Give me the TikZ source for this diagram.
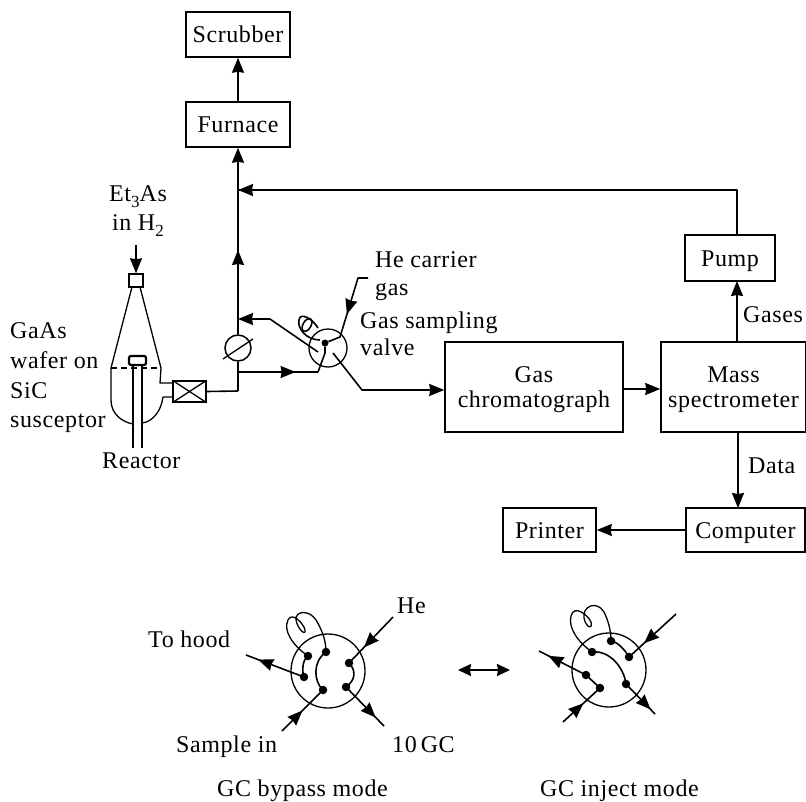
\documentclass[tikz,border=0pt]{standalone}
\usepackage{fontspec}
\setmainfont[LetterSpace=2.5]{Liberation Serif}
\usetikzlibrary{arrows.meta,decorations.markings}
\newcommand{\lowsub}[1]{\raisebox{-6pt}{\fontsize{17}{17}\selectfont #1}}
\tikzset{
  x=1pt,y=-1pt,
  every node/.style={font=\fontsize{24}{25}\selectfont},
  lbl/.style={anchor=base west,inner sep=0pt},
  box/.style={draw,line width=1.5pt,inner sep=0pt,align=center},
  onerow/.style={text height=21pt,text depth=5pt},
  wire/.style={line width=1.6pt,line join=round},
  thin wire/.style={line width=1.3pt,line join=round},
  tip/.style={-{Stealth[inset=1pt,length=15pt,width=12pt]}},
  flowtip/.style={postaction={decorate,decoration={markings,mark=at position #1 with {\arrow{Stealth[inset=1pt,length=15pt,width=12pt]}}}}},
  port/.style={circle,fill=black,inner sep=0pt,minimum size=8.5pt},
}
\begin{document}
\begin{tikzpicture}
\useasboundingbox (0,0) rectangle (806,801);
% boxes
\node[box,onerow,minimum width=104pt,minimum height=45pt] (scrubber) at (238,34.5) {Scrubber};
\node[box,onerow,minimum width=104pt,minimum height=45pt] (furnace) at (238,124.5) {Furnace};
\node[box,onerow,minimum width=90pt,minimum height=46pt] (pump) at (730,258) {Pump};
\node[box,minimum width=178pt,minimum height=90pt] (gc) at (534,387) {\rule{0pt}{22pt}Gas\\chromatograph};
\node[box,minimum width=145pt,minimum height=90pt] (ms) at (733.5,387) {\rule{0pt}{22pt}Mass\\spectrometer};
\node[box,onerow,minimum width=119pt,minimum height=44pt] (computer) at (745.5,530) {Computer};
\node[box,onerow,minimum width=93pt,minimum height=44pt] (printer) at (549.5,530) {Printer};
% main connectors
\draw[wire,tip] (furnace.north) -- (scrubber.south);
\coordinate (pumpturn) at (737,190);
\coordinate (mainj) at (238,190);
\draw[wire] (pump.north -| pumpturn) -- (pumpturn) -- (mainj);
\draw[wire,tip] (pumpturn -| 270,190) -- (mainj);
\draw[wire,tip] (737,342) -- (737,281);
\draw[wire,tip] (gc.east |- 0,389) -- (ms.west |- 0,389);
\draw[wire,tip] (738,432) -- (738,508);
\draw[wire,tip] (computer.west) -- (printer.east);
% reactor
\node[draw,line width=1.5pt,minimum width=14pt,minimum height=13pt,inner sep=0pt] (inlet) at (136,280.5) {};
\coordinate (inletfree) at (136,245);
\draw[thin wire,tip] (inletfree) -- (inlet.north);
\coordinate (cl) at (111,368);
\coordinate (cr) at (161,368);
\draw[thin wire] (132,287) -- (cl) -- (111,400) .. controls (111,414) and (122,422) .. (133,424);
\draw[thin wire] (140,287) -- (cr) -- (160,383) -- (173,383);
\draw[thin wire] (173,397) -- (163,397) .. controls (161,412) and (152,422) .. (142,423);
\draw[thin wire,dash pattern=on 6pt off 4pt] (cl) -- (cr);
\draw[line width=2.2pt,rounded corners=2pt] (129,356) rectangle (146,365);
\draw[thin wire] (133,366) -- (133,448);
\draw[thin wire] (142,366) -- (142,448);
% valve box
\node[draw,line width=1.5pt,minimum width=33pt,minimum height=21pt,inner sep=0pt] (xvalve) at (189.5,391.5) {};
\draw[thin wire] (xvalve.north west) -- (xvalve.south east);
\draw[thin wire] (xvalve.south west) -- (xvalve.north east);
\coordinate (xj) at (238,391);
\draw[wire] (xvalve.east) -- (xj);
% flow element
\node[draw,circle,line width=1.5pt,minimum size=26pt,inner sep=0pt] (flow) at (238,348) {};
\draw[thin wire] (223,359) -- (253,339);
\draw[wire] (xj) -- (flow.south);
\draw[wire,tip] (flow.north) -- (furnace.south);
\draw[wire,tip] (flow.north) -- (238,250);
% sampling valve
\node[draw,circle,line width=1.3pt,minimum size=38pt,inner sep=0pt] (sv) at (328,348) {};
\node[circle,fill=black,inner sep=0pt,minimum size=7pt] (svc) at (325,343) {};
\coordinate (ret) at (238,319);
\coordinate (retb) at (270,319);
\coordinate (reti) at (318,352);
\draw[wire,tip] (reti) -- (retb) -- (ret);
\coordinate (sb) at (238,372);
\coordinate (sbe) at (318,372);
\draw[wire,flowtip=0.72] (sb) -- (sbe);
\draw[wire] (sbe) -- (325,353) -- (svc);
\coordinate (he1) at (368,278);
\coordinate (he2) at (358,278);
\coordinate (he3) at (340,337);
\draw[wire,flowtip=0.57] (he1) -- (he2) -- (he3) -- (svc);
\coordinate (so) at (333,353);
\coordinate (so2) at (362,390);
\draw[wire,tip] (so) -- (so2) -- (gc.west |- so2);
\draw[line width=1.6pt,rotate around={-30:(307,325)}] (307,325) ellipse (4pt and 7pt);
\draw[line width=1.6pt] (320,340) .. controls (306,340) and (297,328) .. (299,320) .. controls (300,312) and (312,318) .. (318,328);
% bypass valve
\node[draw,circle,line width=1.3pt,minimum size=74pt,inner sep=0pt] (bv) at (328,671) {};
\node[port] (a) at (308,656) {};
\node[port] (b) at (326,652) {};
\node[port] (c) at (349,663) {};
\node[port] (d) at (346,687) {};
\node[port] (e) at (323,690) {};
\node[port] (f) at (304,677) {};
\coordinate (hood) at (246,655);
\coordinate (hefree) at (393,617);
\coordinate (sfree) at (282,731);
\coordinate (gcfree) at (384,726);
\draw[wire,flowtip=0.79] (f.center) -- (hood);
\draw[wire,flowtip=0.66] (hefree) -- (c.center);
\draw[wire,flowtip=0.5] (sfree) -- (e.center);
\draw[wire,flowtip=0.78] (d.center) -- (gcfree);
\draw[wire] (a.center) .. controls (302,660) and (302,672) .. (f.center);
\draw[wire] (b.center) .. controls (312,662) and (314,682) .. (e.center);
\draw[wire] (c.center) .. controls (356,670) and (356,680) .. (d.center);
\draw[thin wire] (a.center) .. controls (292,645) and (283,630) .. (288,620) .. controls (292,611) and (304,624) .. (305,630) .. controls (306,636) and (298,630) .. (296,620) .. controls (295,610) and (310,610) .. (316,620) .. controls (322,630) and (326,640) .. (b.center);
% double arrow
\coordinate (dl) at (458,670);
\coordinate (dr) at (510,670);
\draw[wire,{Stealth[inset=1pt,length=13pt,width=12pt]}-{Stealth[inset=1pt,length=13pt,width=12pt]}] (dl) -- (dr);
% inject valve
\node[draw,circle,line width=1.3pt,minimum size=74pt,inner sep=0pt] (iv) at (609,670) {};
\node[port] (p) at (611,641) {};
\node[port] (q) at (629,657) {};
\node[port] (r) at (626,684) {};
\node[port] (s) at (600,688) {};
\node[port] (t) at (586,675) {};
\node[port] (u) at (592,652) {};
\coordinate (ihood) at (539,651);
\coordinate (ihe) at (676,614);
\coordinate (is) at (563,722);
\coordinate (igc) at (655,714);
\draw[wire,flowtip=0.8] (t.center) -- (ihood);
\draw[wire] (t.center) -- (s.center);
\draw[wire,flowtip=0.68] (ihe) -- (q.center);
\draw[wire,flowtip=0.55] (is) -- (s.center);
\draw[wire,flowtip=0.85] (r.center) -- (igc);
\draw[wire] (p.center) .. controls (618,642) and (625,650) .. (q.center);
\draw[wire] (u.center) .. controls (610,650) and (624,668) .. (r.center);
\draw[thin wire] (u.center) .. controls (578,642) and (568,628) .. (571,616) .. controls (574,604) and (588,615) .. (591,622) .. controls (593,630) and (586,628) .. (584,618) .. controls (582,606) and (597,600) .. (604,612) .. controls (608,620) and (611,630) .. (p.center);
% labels
\node[lbl,anchor=base] (et) at (138,201) {Et\lowsub{3}As};
\node[lbl,anchor=base] (inh) at (138,230) {in H\lowsub{2}};
\node[lbl] (l1) at (10,338) {GaAs};
\node[lbl] (l2) at (10,368) {wafer on};
\node[lbl] (l3) at (10,398) {SiC};
\node[lbl] (l4) at (10,427) {susceptor};
\node[lbl] (reactor) at (102,468) {Reactor};
\node[lbl] (hc) at (375,267) {He carrier};
\node[lbl] (hg) at (375,295) {gas};
\node[lbl] (gs) at (360,328) {Gas sampling};
\node[lbl] (gv) at (360,355) {valve};
\node[lbl] (gases) at (743,322) {Gases};
\node[lbl] (data) at (748,473) {Data};
\node[lbl] (tohood) at (148,647) {To hood};
\node[lbl] (helbl) at (397,613) {He};
\node[lbl] (sample) at (176,752) {Sample in};
\node[lbl] (ten) at (392,752) {10\,GC};
\node[lbl] (m1) at (217,796) {GC bypass mode};
\node[lbl] (m2) at (540,796) {GC inject mode};
\end{tikzpicture}
\end{document}
